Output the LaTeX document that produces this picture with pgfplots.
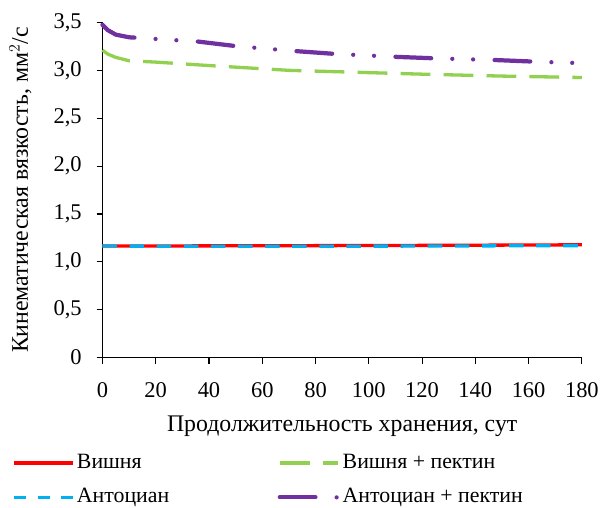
\documentclass[border=0pt]{standalone}
\usepackage{pgfplots}
\pgfplotsset{compat=1.18}
\usepackage{fontspec}
\setmainfont{Liberation Serif}
\definecolor{cred}{RGB}{255,0,0}
\definecolor{cblue}{RGB}{0,176,240}
\definecolor{cgreen}{RGB}{146,208,80}
\definecolor{cpurple}{RGB}{112,48,160}
\newcommand{\cf}{\fontsize{16.5}{19}\selectfont}
\newcommand{\tf}{\fontsize{17}{20}\selectfont}
\newcommand{\lf}{\fontsize{18}{21}\selectfont}
\begin{document}
\cf
\begin{tikzpicture}
\begin{axis}[
  width=362.6pt, height=253.5pt, scale only axis,
  xmin=0, xmax=180, ymin=0, ymax=3.5,
  xtick={0,20,...,180}, ytick={0,0.5,...,3.5},
  axis x line*=bottom, axis y line*=left,
  /pgf/number format/assume math mode=true,
  /pgf/number format/use comma,
  yticklabel style={/pgf/number format/fixed,/pgf/number format/fixed zerofill,/pgf/number format/precision=1, xshift=-5.5pt},
  xticklabel style={yshift=-8.5pt},
  yticklabel={\ifdim\tick pt=0pt 0\else\pgfmathprintnumber{\tick}\fi},
  tick style={black, line width=0.8pt}, tick align=outside, major tick length=4.5pt,
  axis line style={black, line width=1.2pt},
  xlabel={Продолжительность хранения, сут},
  ylabel={Кинематическая вязкость, мм$^2$/с},
  every axis y label/.style={at={(axis description cs:-0.171,0.5)}, rotate=90, anchor=center, font=\lf},
  every axis x label/.style={at={(axis description cs:0.5,-0.205)}, anchor=center, font=\lf},
  every tick label/.append style={font=\tf},
  legend columns=2,
  legend style={draw=none, inner sep=0pt, at={(axis description cs:-0.1875,-0.284)}, anchor=north west,
    font=\cf,
    nodes={text height=11.5pt, text depth=3.5pt, inner ysep=0pt},
    /tikz/every even column/.append style={column sep=80pt}, row sep=11pt},
  legend cell align=left,
  legend image code/.code={\draw[#1] (0pt,0pt) -- (44pt,0pt);},
  clip=false,
]
\path (axis description cs:-0.2137,-0.4245) rectangle (axis description cs:1.04,1.067);
\addplot[cred, line width=2.5pt] coordinates {(0,1.165) (60,1.168) (120,1.172) (180,1.178)};
\addlegendentry{Вишня}
\addplot[cgreen, line width=2.5pt, dash pattern=on 22.5pt off 10pt] coordinates {(0,3.21) (2,3.17) (5,3.135) (10,3.10) (20,3.086) (40,3.05) (70,3.0) (100,2.976) (120,2.96) (150,2.94) (170,2.93) (180,2.925)};
\addlegendentry{Вишня + пектин}
\addplot[cblue, line width=2.5pt, dash pattern=on 11pt off 9.5pt,
  legend image code/.code={\draw[cblue, line width=2.5pt, dash pattern=on 9pt off 8.5pt] (0pt,0pt) -- (44pt,0pt);}] coordinates {(0,1.165) (60,1.162) (120,1.165) (180,1.17)};
\addlegendentry{Антоциан}
\addplot[cpurple, line width=3.2pt, line cap=round, dash pattern=on 27pt off 16pt on 0pt off 15.75pt on 0pt off 16.25pt] coordinates {(0,3.476) (2,3.42) (5,3.373) (10,3.345) (13,3.34) (36,3.30) (51,3.25) (73,3.20) (88,3.17) (111,3.14) (126,3.124) (148,3.107) (163,3.09) (180,3.075)};
\addlegendentry{Антоциан + пектин}
\end{axis}
\end{tikzpicture}
\end{document}
